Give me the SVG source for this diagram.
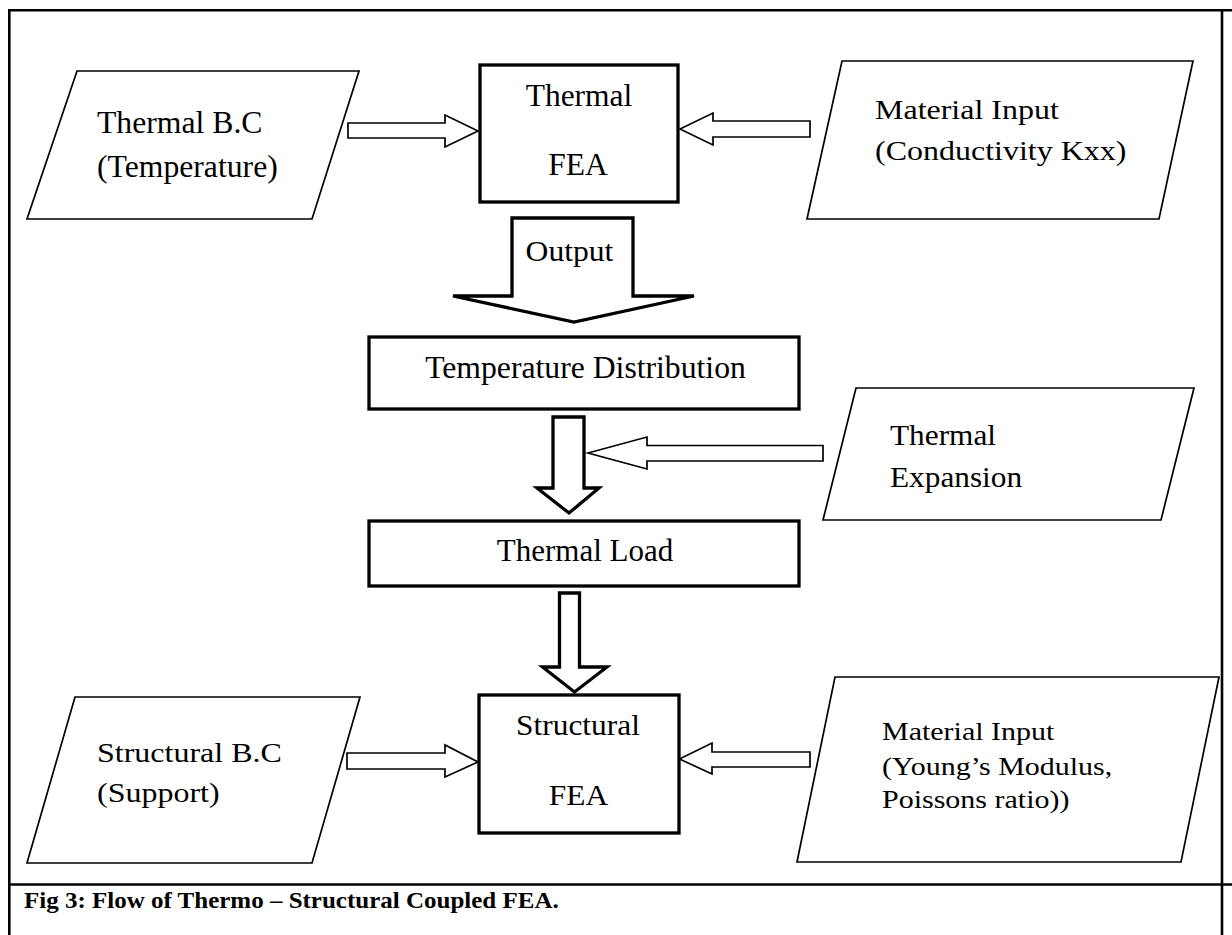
<svg xmlns="http://www.w3.org/2000/svg" width="1232" height="935" viewBox="0 0 1232 935">
<style>
.t{font-family:"Liberation Serif","Times New Roman",serif;fill:#000}
.b{font-weight:bold}
.thin{fill:#fff;stroke:#000;stroke-width:1.7;stroke-linejoin:miter}
.thick{fill:#fff;stroke:#000;stroke-width:3.3;stroke-linejoin:miter}
.frame{stroke:#000;stroke-width:2.6;fill:none}
</style>
<rect width="1232" height="935" fill="#fff"/>
<g id="frame">
<line class="frame" x1="9.3" y1="9" x2="9.3" y2="935"/>
<line class="frame" x1="8" y1="10.3" x2="1232" y2="10.3"/>
<line class="frame" x1="1222" y1="9" x2="1222" y2="935"/>
<line class="frame" x1="8" y1="884.5" x2="1232" y2="884.5"/>
</g>
<g id="connectors">
<polygon class="thin" points="348,123 445,123 445,115 478,131 445,147 445,138 348,138"/>
<polygon class="thin" points="680,129 713,113 713,121 810,121 810,137 713,137 713,145"/>
<polygon class="thick" points="512,218 633,218 633,296 694,296 574,322 453,296 512,296"/>
<polygon class="thick" points="553,417 584,417 584,488 599,488 569,513 537,488 553,488"/>
<polygon class="thin" points="588,453 647,437 647,445.5 823,445.5 823,461 647,461 647,469"/>
<polygon class="thick" points="559.5,593 579.5,593 579.5,667 607,667 574.5,692 542.5,667 559.5,667"/>
<polygon class="thin" points="347,753 445,753 445,745 478,762 445,777 445,769 347,769"/>
<polygon class="thin" points="679.5,759 712,743 712,752 810,752 810,767 712,767 712,774"/>
<text class="t" font-size="31.6" text-anchor="middle" transform="translate(569.5,260.5) scale(1,0.96)">Output</text>
</g>
<g id="thermal-bc">
<polygon class="thin" points="77,71 359,71 312,219 27,219"/>
<text class="t" font-size="31.7" transform="translate(97,133)">Thermal B.C</text>
<text class="t" font-size="31.7" transform="translate(97,177)">(Temperature)</text>
</g>
<g id="thermal-fea">
<rect class="thick" x="480" y="65" width="198" height="137"/>
<text class="t" font-size="31.5" text-anchor="middle" x="579" y="106">Thermal</text>
<text class="t" font-size="31.5" text-anchor="middle" x="578" y="175">FEA</text>
</g>
<g id="material-thermal">
<polygon class="thin" points="842,61 1193,61 1159,219 807,219"/>
<text class="t" font-size="32" transform="translate(875,119) scale(1,0.88)">Material Input</text>
<text class="t" font-size="32" transform="translate(875,160) scale(1,0.88)">(Conductivity Kxx)</text>
</g>
<g id="temperature-distribution">
<rect class="thick" x="369" y="337" width="430" height="72"/>
<text class="t" font-size="31.7" text-anchor="middle" x="585.5" y="378">Temperature Distribution</text>
</g>
<g id="thermal-expansion">
<polygon class="thin" points="856,388 1194,388 1161,520 823,520"/>
<text class="t" font-size="31.3" transform="translate(890,445) scale(1,0.97)">Thermal</text>
<text class="t" font-size="31.3" transform="translate(890,487) scale(1,0.97)">Expansion</text>
</g>
<g id="thermal-load">
<rect class="thick" x="369" y="521" width="430" height="65"/>
<text class="t" font-size="31" text-anchor="middle" x="585" y="561">Thermal Load</text>
</g>
<g id="structural-bc">
<polygon class="thin" points="75,697 360,697 312,863 27,863"/>
<text class="t" font-size="32" transform="translate(97,762) scale(1,0.87)">Structural B.C</text>
<text class="t" font-size="32" transform="translate(97,802) scale(1,0.87)">(Support)</text>
</g>
<g id="structural-fea">
<rect class="thick" x="479" y="695" width="200" height="138"/>
<text class="t" font-size="31.4" text-anchor="middle" transform="translate(578,735) scale(1,0.97)">Structural</text>
<text class="t" font-size="31.4" text-anchor="middle" transform="translate(578.5,805) scale(1,0.97)">FEA</text>
</g>
<g id="material-structural">
<polygon class="thin" points="835,677 1219,677 1181,862 797,862"/>
<text class="t" font-size="30" transform="translate(882,740) scale(1,0.87)">Material Input</text>
<text class="t" font-size="30" transform="translate(882,775) scale(1,0.87)">(Young’s Modulus,</text>
<text class="t" font-size="30" transform="translate(882,808) scale(1,0.87)">Poissons ratio))</text>
</g>
<g id="caption">
<text class="t b" font-size="25" transform="translate(24,907.5) scale(1,0.94)">Fig 3: Flow of Thermo – Structural Coupled FEA.</text>
</g>
</svg>
